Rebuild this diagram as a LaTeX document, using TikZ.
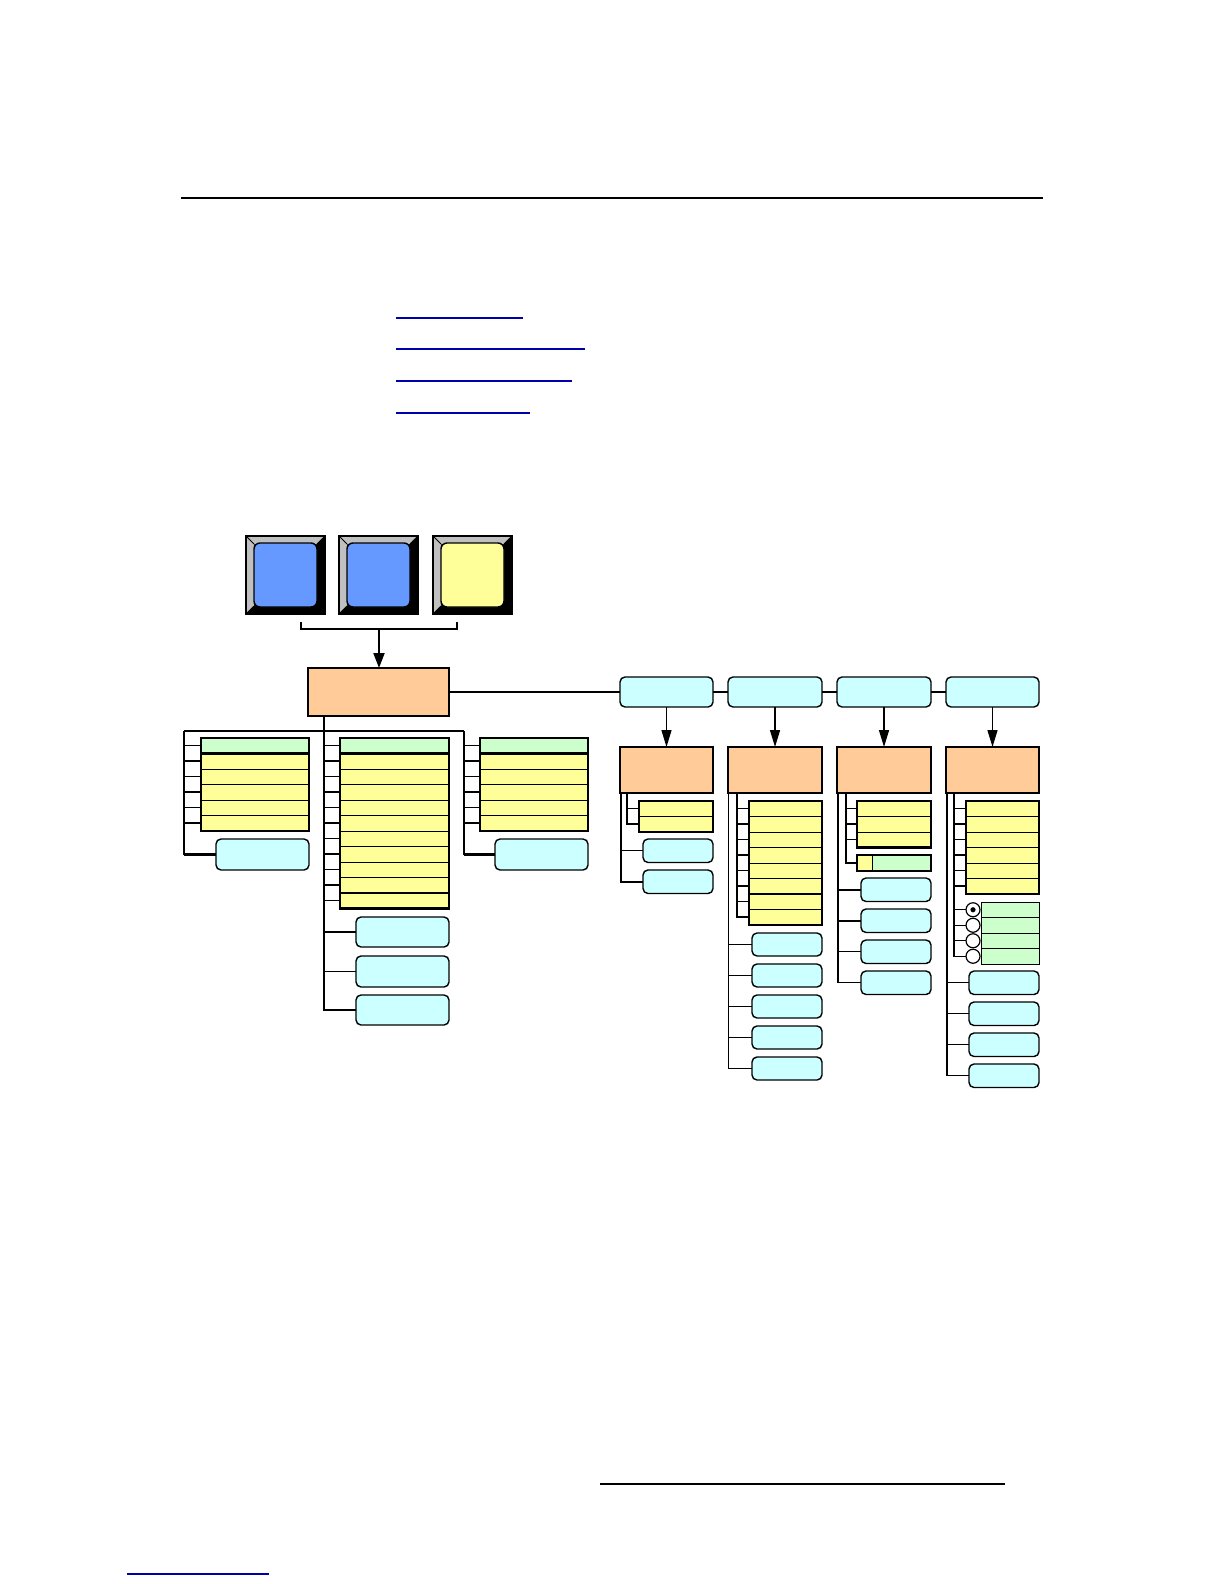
\documentclass[tikz,border=0pt]{standalone}
\usetikzlibrary{arrows.meta,calc}
\definecolor{orng}{RGB}{255,204,153}
\definecolor{cyn}{RGB}{204,255,255}
\definecolor{ylw}{RGB}{255,255,153}
\definecolor{grn}{RGB}{204,255,204}
\definecolor{btnblue}{RGB}{102,153,255}
\definecolor{btnyel}{RGB}{255,255,153}
\definecolor{bevelgray}{RGB}{192,192,192}
\definecolor{linkblue}{RGB}{0,0,170}
% box by corners: name, style, x1, y1, x2, y2 (pixel units, y downwards)
\newcommand\bx[6]{\node[#2,anchor=north west,minimum width={((#5)-(#3))*0.5pt},minimum height={((#6)-(#4))*0.5pt}] (#1) at (#3,#4) {};}
% rows: prefix, style, x1, x2, ytop, index list
\newcommand\rows[6]{\foreach \i in {#6} {\bx{#1\i}{#2}{#3}{#5+15.5*\i}{#4}{#5+15.5*\i+15.5}}}
% ticks: prefix, last index, coordinate on the trunk
\newcommand\ticks[3]{\foreach \i [evaluate=\i as \w using {0.6+0.6*mod(\i,2)}] in {0,...,#2} {\draw[line width=\w pt] (#1\i.west -| #3) -- (#1\i.west);}}
% button: name, x0, y0, colour
\newcommand\btn[4]{%
  \fill[black] (#2,#3) rectangle +(79,78);
  \fill[bevelgray] (#2,#3) -- +(79,0) -- +(71,8) -- +(8,8) -- +(8,70) -- +(0,78) -- cycle;
  \draw[line width=0.4pt] (#2,#3) -- +(8,8) (#2,#3) +(79,0) -- +(71,8) (#2,#3) +(0,78) -- +(8,70) (#2,#3) +(79,78) -- +(71,70);
  \draw[line width=0.6pt] (#2,#3) rectangle +(79,78);
  \node[draw,fill=#4,rounded corners=3pt,line width=0.7pt,anchor=north west,minimum width=31.5pt,minimum height=32pt] (#1) at (#2+8,#3+7) {};}
\begin{document}
\begin{tikzpicture}[x=0.5pt,y=-0.5pt,
  every node/.style={inner sep=0pt,outer sep=0pt},
  orangebox/.style={draw,fill=orng,line width=0.9pt},
  cyanbox/.style={draw,fill=cyn,rounded corners=2.5pt,line width=0.7pt},
  yellowrow/.style={draw,fill=ylw,line width=0.5pt},
  greenrow/.style={draw,fill=grn,line width=0.5pt},
  blockframe/.style={draw,line width=1.1pt},
  treeline/.style={line width=0.65pt},
  hline/.style={line width=1pt},
  arr/.style={line width=0.7pt,-{Triangle[width=5pt,length=8.5pt]}},
  mainarr/.style={line width=1pt,-{Triangle[width=5.5pt,length=7.5pt]}},
  radio/.style={circle,draw,fill=white,minimum size=7pt,line width=0.6pt}
]
\useasboundingbox[fill=white] (0,0) rectangle (1224,1584);

% page rules and link underlines
\draw[line width=1pt] (181,198) -- (1043,198);
\draw[linkblue,line width=0.75pt] (396,318) -- (523,318);
\draw[linkblue,line width=0.75pt] (396,349) -- (585,349);
\draw[linkblue,line width=0.75pt] (396,381) -- (572,381);
\draw[linkblue,line width=0.75pt] (396,413) -- (530,413);
\draw[line width=0.75pt] (600,1484) -- (1005,1484);
\draw[linkblue,line width=0.75pt] (127,1574) -- (269,1574);

% buttons
\btn{b1}{246}{536}{btnblue}
\btn{b2}{339}{536}{btnblue}
\btn{b3}{433}{536}{btnyel}

% main menu box
\bx{main}{orangebox}{308}{668}{449}{716}
\coordinate (bl) at (301,622);
\coordinate (bm) at (379,629);
\coordinate (br) at (457,622);
\draw[treeline] (bl) |- (bm) -| (br);
\draw[mainarr] (bm) -- (bm |- main.north);

% top row of sub menus
\bx{T1}{cyanbox}{620}{677}{713}{707}
\bx{T2}{cyanbox}{728}{677}{822}{707}
\bx{T3}{cyanbox}{837}{677}{931}{707}
\bx{T4}{cyanbox}{946}{677}{1039}{707}
\draw[hline] (main.east) -- (main.east -| T1.west);
\draw[hline] (T1.east) -- (T2.west);
\draw[hline] (T2.east) -- (T3.west);
\draw[hline] (T3.east) -- (T4.west);

\bx{S1}{orangebox}{620}{747}{713}{793}
\bx{S2}{orangebox}{728}{747}{822}{793}
\bx{S3}{orangebox}{837}{747}{931}{793}
\bx{S4}{orangebox}{946}{747}{1039}{793}
\draw[arr] (T1.south) -- (S1.north);
\draw[arr] (T2.south) -- (S2.north);
\draw[arr] (T3.south) -- (S3.north);
\draw[arr] (T4.south) -- (S4.north);

% ---------- left tree under main ----------
\coordinate (lt) at (184,731);
\coordinate (mt) at (324,731);
\coordinate (rt) at (464,731);
\draw[treeline] (lt) -- (rt);

\rows{L}{greenrow}{201}{309}{738}{0}
\rows{L}{yellowrow}{201}{309}{738}{1,...,5}
\draw[line width=1.1pt] (L1.north west) -- (L1.north east);
\draw[blockframe] (L0.north west) rectangle (L5.south east);
\bx{Lc}{cyanbox}{216}{839}{309}{870}
\ticks{L}{5}{lt}
\draw[treeline] (lt) |- (Lc.west);
\draw[line width=1.1pt] (Lc.west -| lt) -- (Lc.west);

\rows{M}{greenrow}{340}{449}{738}{0}
\rows{M}{yellowrow}{340}{449}{738}{1,...,10}
\draw[line width=1.1pt] (M1.north west) -- (M1.north east);
\draw[line width=1.1pt] (M10.north west) -- (M10.north east);
\draw[blockframe] (M0.north west) rectangle (M10.south east);
\bx{Mc1}{cyanbox}{356}{917}{449}{947}
\bx{Mc2}{cyanbox}{356}{956}{449}{987}
\bx{Mc3}{cyanbox}{356}{995}{449}{1025}
\draw[treeline] (main.south -| mt) |- (Mc3.west);
\ticks{M}{10}{mt}
\draw[treeline] (Mc1.west -| mt) -- (Mc1.west);
\draw[treeline] (Mc2.west -| mt) -- (Mc2.west);

\rows{R}{greenrow}{480}{588}{738}{0}
\rows{R}{yellowrow}{480}{588}{738}{1,...,5}
\draw[line width=1.1pt] (R1.north west) -- (R1.north east);
\draw[blockframe] (R0.north west) rectangle (R5.south east);
\bx{Rc}{cyanbox}{495}{839}{588}{870}
\ticks{R}{5}{rt}
\draw[treeline] (rt) |- (Rc.west);
\draw[line width=1.1pt] (Rc.west -| rt) -- (Rc.west);

% ---------- column A ----------
\coordinate (a0) at (621,793);
\coordinate (a1) at (627,793);
\rows{A}{yellowrow}{639}{713}{801}{0,1}
\draw[blockframe] (A0.north west) rectangle (A1.south east);
\bx{Ac1}{cyanbox}{643}{839}{713}{862.5}
\bx{Ac2}{cyanbox}{643}{870}{713}{893.5}
\draw[treeline] (a1) |- (A1.west);
\ticks{A}{1}{a1}
\draw[treeline,line width=0.8pt] (a0) |- (Ac2.west);
\draw[treeline] (Ac1.west -| a0) -- (Ac1.west);

% ---------- column B ----------
\coordinate (bb0) at (728.5,793);
\coordinate (bb1) at (737,793);
\rows{B}{yellowrow}{749}{822}{801}{0,...,7}
\draw[line width=1.1pt] (B6.north west) -- (B6.north east);
\draw[blockframe] (B0.north west) rectangle (B7.south east);
\draw[treeline] (bb1) |- (B7.west);
\ticks{B}{7}{bb1}
\foreach \k in {1,...,5} {\bx{Bc\k}{cyanbox}{752}{902+31*\k}{822}{925+31*\k}}
\draw[treeline] (bb0) |- (Bc5.west);
\foreach \k in {1,...,4} {\draw[treeline] (Bc\k.west -| bb0) -- (Bc\k.west);}

% ---------- column C ----------
\coordinate (c0) at (838,793);
\coordinate (c1) at (846,793);
\rows{C}{yellowrow}{857}{931}{801}{0,1,2}
\draw[blockframe] (C0.north west) rectangle (C2.south east);
\bx{Cs}{greenrow}{857}{855}{931}{871}
\bx{Csy}{yellowrow}{857}{855}{872}{871}
\draw[line width=1.1pt] (Cs.north west) rectangle (Cs.south east);
\draw[treeline] (c1) |- (Cs.west);
\ticks{C}{2}{c1}
\foreach \k in {1,...,4} {\bx{Cc\k}{cyanbox}{861}{847+31*\k}{931}{870.5+31*\k}}
\draw[treeline] (c0) |- (Cc4.west);
\draw[line width=1.1pt] (Cc1.west -| c0) -- (Cc1.west);
\draw[line width=1.1pt] (Cc2.west -| c0) -- (Cc2.west);
\draw[treeline] (Cc3.west -| c0) -- (Cc3.west);

% ---------- column D ----------
\coordinate (d0) at (947,793);
\coordinate (d1) at (954,793);
\rows{D}{yellowrow}{966}{1039}{801}{0,...,5}
\draw[blockframe] (D0.north west) rectangle (D5.south east);
\foreach \j in {0,...,3} {\bx{Dg\j}{greenrow}{981}{902+15.5*\j}{1039}{917.5+15.5*\j}}
\foreach \j in {0,...,3} {\node[radio] (Dr\j) at (973,909.75+15.5*\j) {};}
\fill (Dr0.center) circle (1.3pt);
\draw[treeline] (d1) |- (Dr3.west);
\ticks{D}{5}{d1}
\foreach \j in {0,1,2} {\draw[treeline] (Dr\j.west -| d1) -- (Dr\j.west);}
\foreach \k in {1,...,4} {\bx{Dc\k}{cyanbox}{969}{940+31*\k}{1039}{963.5+31*\k}}
\draw[treeline] (d0) |- (Dc4.west);
\foreach \k in {1,...,3} {\draw[treeline] (Dc\k.west -| d0) -- (Dc\k.west);}
\end{tikzpicture}
\end{document}
